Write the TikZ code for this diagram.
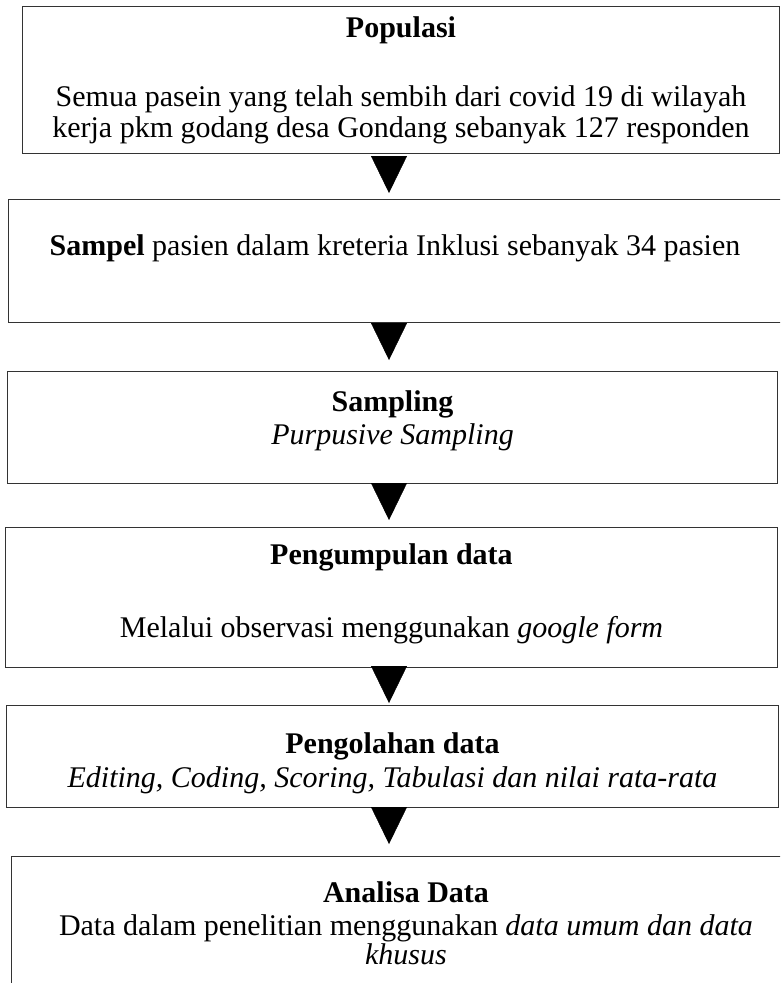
\documentclass[tikz,border=0pt]{standalone}
\usepackage{fontspec}
\setmainfont{Liberation Serif}
\usetikzlibrary{arrows.meta,positioning}

\begin{document}
\begin{tikzpicture}[x=1pt,y=-1pt,
  kotak/.style={draw=black!80,line width=1pt,anchor=north west,align=center,inner sep=0pt,
    font=\fontsize{30}{31}\selectfont},
  panah/.style={-{Triangle[width=36pt,length=37pt]},line width=0.4pt}]
  \useasboundingbox (0,0) rectangle (780,983);
  \clip (0,0) rectangle (780,983);
  \coordinate (tengah) at (389,0);
  \node[kotak,minimum width=757pt,minimum height=147pt] (pop) at (22,6)
    {\textbf{Populasi}\\[38pt]Semua pasein yang telah sembih dari covid 19 di wilayah\\
     kerja pkm godang desa Gondang sebanyak 127 responden};
  \node[kotak,minimum width=773pt,minimum height=123pt] (sampel) at (8,199)
    {\textbf{Sampel} pasien dalam kreteria Inklusi sebanyak 34 pasien\\ \mbox{}};
  \node[kotak,minimum width=770pt,minimum height=112pt] (sampling) at (7,371)
    {\textbf{Sampling}\\[2pt]\textit{Purpusive Sampling}\rule[-20pt]{0pt}{1pt}};
  \node[kotak,minimum width=772pt,minimum height=140pt] (kumpul) at (5,527)
    {\textbf{Pengumpulan data}\\[42pt]Melalui observasi menggunakan \textit{google form}\rule[-14pt]{0pt}{1pt}};
  \node[kotak,minimum width=772pt,minimum height=102pt] (olah) at (6,705)
    {\rule{0pt}{34pt}\textbf{Pengolahan data}\\[3pt]\textit{Editing, Coding, Scoring, Tabulasi dan nilai rata-rata}};
  \node[kotak,minimum width=789pt,minimum height=133pt] (analisa) at (11,856)
    {\textbf{Analisa Data}\\[2pt]Data dalam penelitian menggunakan \textit{data umum dan data}\\[-2pt]
     \textit{khusus}};
  % panah antar tahap
  \draw[panah,shorten <=4pt,shorten >=6pt] (pop.south -| tengah) -- (sampel.north -| tengah);
  \draw[panah,shorten >=11pt] (sampel.south -| tengah) -- (sampling.north -| tengah);
  \draw[panah,shorten >=7pt] (sampling.south -| tengah) -- (kumpul.north -| tengah);
  \draw[panah,shorten >=2pt] (kumpul.south -| tengah) -- (olah.north -| tengah);
  \draw[panah,shorten >=12pt] (olah.south -| tengah) -- (analisa.north -| tengah);
\end{tikzpicture}
\end{document}
